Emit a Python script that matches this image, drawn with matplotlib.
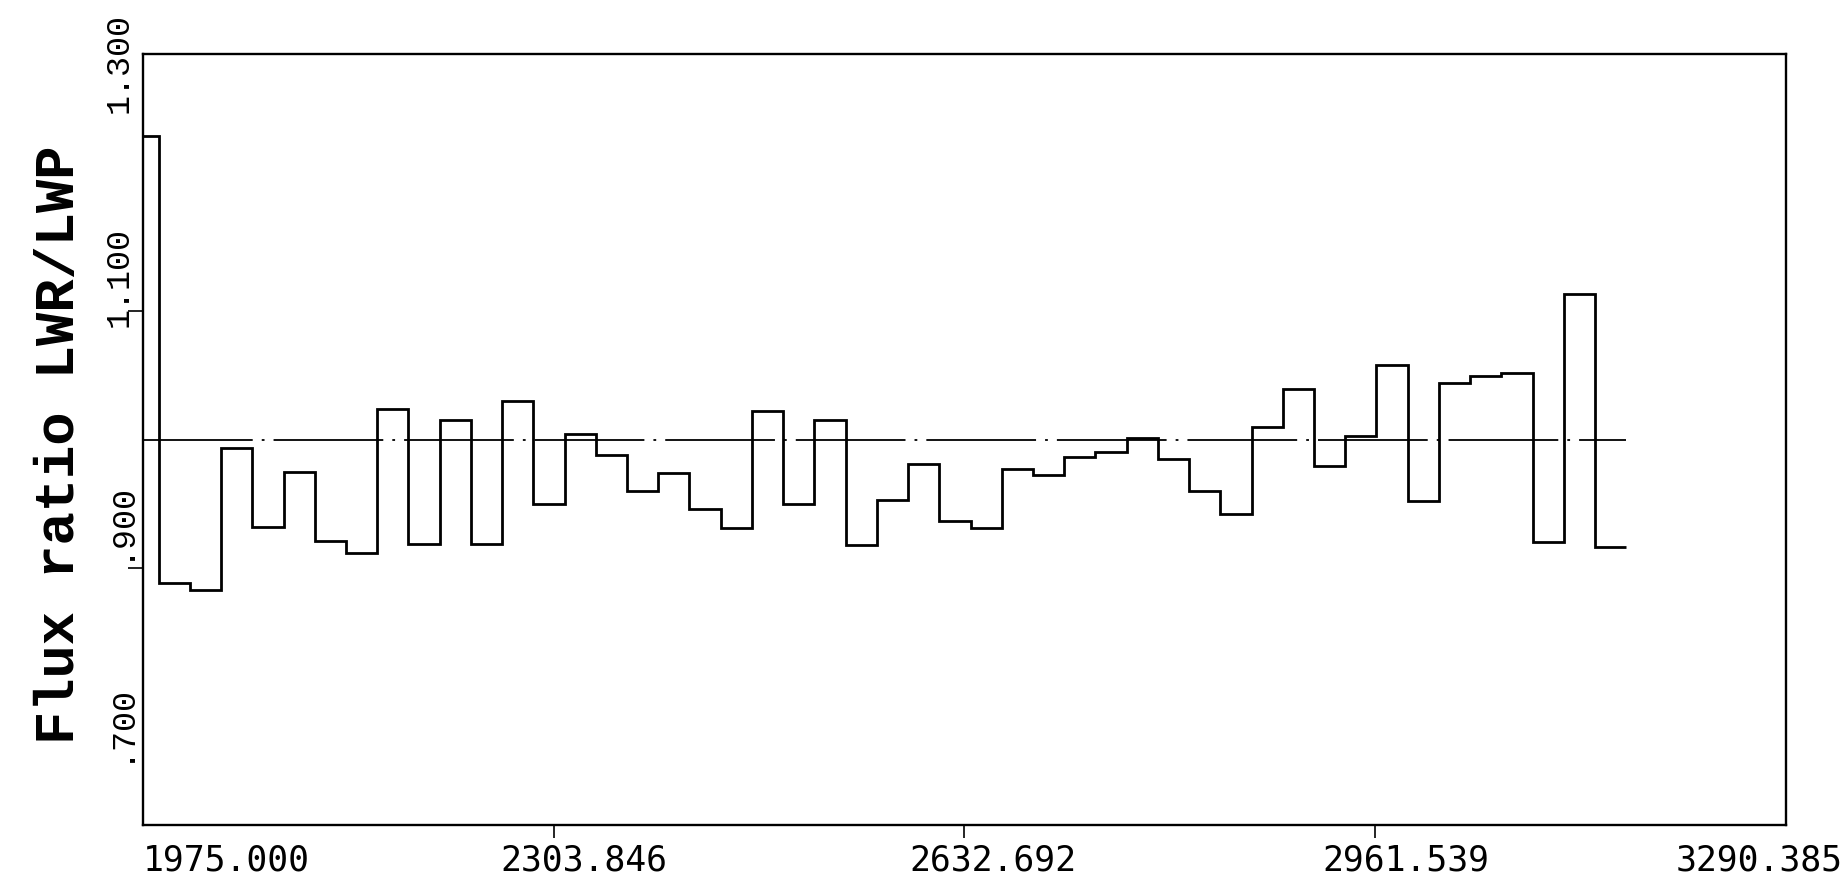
import numpy as np
import matplotlib
matplotlib.use("Agg")
import matplotlib.pyplot as plt
from matplotlib.transforms import ScaledTranslation, blended_transform_factory

# ---------------- data ----------------
# wavelength bin edges (Angstrom): a short first bin, then 25 A bins
wavelength_edges = [1975.0] + list(np.arange(1987.5, 3162.6, 25.0))
flux_ratio = [1.236, 0.8885, 0.8828, 0.993, 0.932, 0.975, 0.921, 0.912,
              1.024, 0.919, 1.015, 0.919, 1.030, 0.950, 1.004, 0.9876,
              0.9596, 0.974, 0.946, 0.931, 1.022, 0.950, 1.015, 0.918,
              0.953, 0.981, 0.9365, 0.931, 0.977, 0.972, 0.9865, 0.990,
              1.001, 0.985, 0.960, 0.9417, 1.010, 1.039, 0.979, 1.003,
              1.058, 0.952, 1.044, 1.0495, 1.0516, 0.920, 1.1136, 0.9165]
reference_level = 1.0

x_ticks = [1975.000, 2303.846, 2632.692, 2961.539, 3290.385]
x_tick_labels = ["1975.000", "2303.846", "2632.692", "2961.539", "3290.385"]
y_ticks = [1.3, 1.1, 0.9, 0.7]
y_tick_labels = ["1.300", "1.100", ".900", ".700"]
y_label = "Flux ratio LWR/LWP"

# ---------------- figure ----------------
plt.rcParams['lines.scale_dashes'] = False
W, H = 1841, 879
fig = plt.figure(figsize=(W / 100, H / 100), dpi=100)
ax = fig.add_axes([143 / W, (H - 826) / H, 1643 / W, 771 / H])
ax.set_xlim(x_ticks[0], x_ticks[-1])
ax.set_ylim(min(y_ticks), max(y_ticks))

for s in ax.spines.values():
    s.set_linewidth(1.7)
    s.set_color("black")

ax.stairs(flux_ratio, wavelength_edges, baseline=None, color="black",
          linewidth=2.0)
ax.plot([wavelength_edges[0], wavelength_edges[-1]],
        [reference_level, reference_level], color="black", linewidth=1.3,
        linestyle=(0, (79, 6.5, 2, 6.5)), dash_capstyle="butt")

# ticks
ax.set_xticks(x_ticks)
ax.set_xticklabels([])
ax.tick_params(axis="x", direction="out", length=9, width=1.2, color="black")
xt = ax.xaxis.get_major_ticks()
xt[0].tick1line.set_visible(False)
xt[-1].tick1line.set_visible(False)
inner_y = [v for v in y_ticks if min(y_ticks) < v < max(y_ticks)]
ax.set_yticks(inner_y)
ax.set_yticklabels([])
ax.tick_params(axis="y", direction="out", length=11, width=1.2, color="black")

# x tick labels (placement offsets in pixels, as in the original plot)
xtrans = blended_transform_factory(ax.transData, ax.transAxes)
x_lab_off = [(0, "left"), (30, "center"), (28, "center"), (31, "center"),
             (57, "right")]
for v, lab, (dx, ha) in zip(x_ticks, x_tick_labels, x_lab_off):
    t = xtrans + ScaledTranslation(dx / 100, -35 / 100, fig.dpi_scale_trans)
    ax.text(v, 0, lab, transform=t, ha=ha, va="center",
            fontsize=25, family="DejaVu Sans Mono", color="black",
            clip_on=False)

# y tick labels (rotated, offsets in pixels as in the original plot)
ytrans = blended_transform_factory(ax.transAxes, ax.transData)
y_lab_off = [-8, 35, 49, 104]
for v, lab, dy in zip(y_ticks, y_tick_labels, y_lab_off):
    t = ytrans + ScaledTranslation(-24 / 100, dy / 100, fig.dpi_scale_trans)
    ax.text(0, v, lab, transform=t, ha="center", va="center", rotation=90,
            fontsize=24, family="Liberation Mono", color="black",
            clip_on=False)

fig.text(60 / W, 1 - 445 / H, y_label, rotation=90, ha="center", va="center",
         fontsize=40, family="Liberation Mono", fontweight="bold",
         color="black")

fig.savefig("out.png", dpi=100, facecolor="white")
